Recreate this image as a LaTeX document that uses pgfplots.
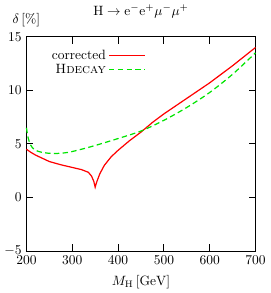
\documentclass[border=0pt]{standalone}
\usepackage{pgfplots}
\pgfplotsset{compat=1.18}
\definecolor{hgreen}{rgb}{0,0.9,0}
\begin{document}
\begin{tikzpicture}
\begin{axis}[
  scale only axis, clip=false,
  width=170pt, height=159pt,
  xmin=200, xmax=700, ymin=-5, ymax=15,
  xtick={200,300,...,700}, ytick={-5,0,5,10,15},
  tick align=inside, major tick length=5.2pt,
  xlabel={$M_{\mathrm{H}}\,[\mathrm{GeV}]$},
  xlabel style={yshift=-1pt},
  title={$\mathrm{H}\to\mathrm{e}^-\mathrm{e}^+\mu^-\mu^+$},
  title style={at={(0.5,1)},anchor=base,yshift=10pt},
  legend plot pos=right,
  legend cell align=right,
  legend style={draw=none, fill=none, at={(0.08,0.965)}, anchor=north west, row sep=-2pt},
  legend image code/.code={\draw[#1] (0pt,0pt) -- (27pt,0pt);},
  axis line style={line width=0.7pt},
  every tick/.style={line width=0.7pt, black},
]
\addlegendimage{draw=red, line width=0.9pt}
\addlegendentry{corrected}
\addlegendimage{draw=hgreen, line width=0.9pt, dash pattern=on 4pt off 2.5pt}
\addlegendentry{\textsc{Hdecay}}
\addplot[draw=red, line width=0.9pt, forget plot] coordinates {
(200,4.5) (210,4.2) (220,3.95) (230,3.75) (250,3.35) (275,3.05) (300,2.8) (320,2.6) (335,2.35) (342,2.0) (347,1.5) (350,0.95) (353,1.4) (360,2.2) (370,3.0) (385,3.8) (400,4.4) (425,5.3) (450,6.1) (475,7.0) (500,7.8) (550,9.25) (600,10.7) (650,12.3) (700,14.0)
};
\addplot[draw=hgreen, line width=0.9pt, dash pattern=on 4pt off 2.5pt, smooth, forget plot] coordinates {
(200,6.5) (203,5.7) (207,5.1) (212,4.7) (220,4.4) (235,4.2) (260,4.1) (290,4.2) (320,4.5) (350,4.85) (400,5.5) (450,6.2) (500,7.2) (550,8.4) (600,9.8) (650,11.5) (700,13.5)
};
\node[anchor=base, yshift=10pt] at (rel axis cs:0,1) {$\delta\,[\%]$};
\end{axis}
\end{tikzpicture}
\end{document}
